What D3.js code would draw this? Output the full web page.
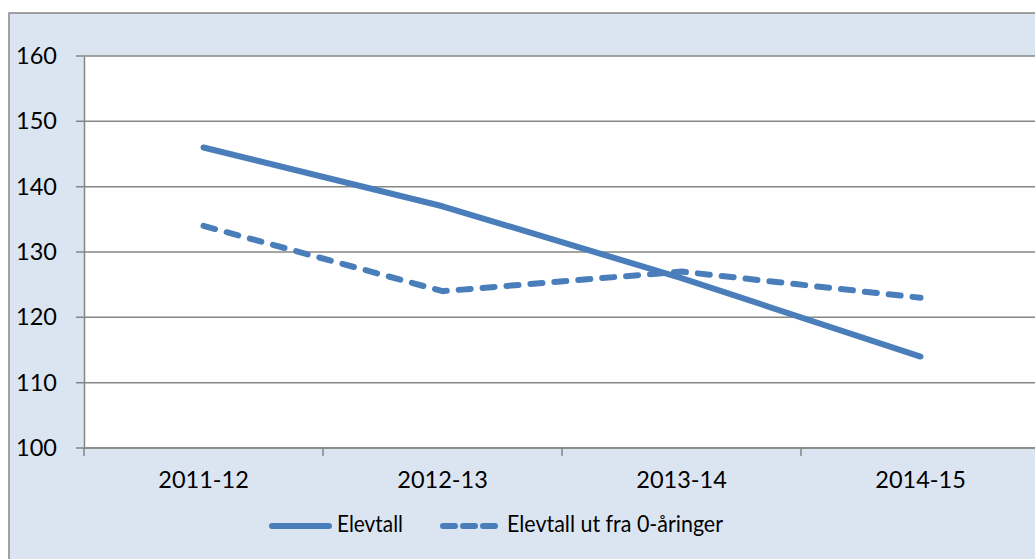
<!DOCTYPE html>
<html><head><meta charset="utf-8">
<script src="https://cdn.jsdelivr.net/npm/d3@7"></script>
<style>html,body{margin:0;padding:0;background:#fff;overflow:hidden}svg{display:block}</style>
</head><body>
<script>
const categories = ["2011-12","2012-13","2013-14","2014-15"];
const elevtall = [146,137,126,114];
const elevtall0 = [134,124,127,123];
const seriesNames = ["Elevtall","Elevtall ut fra 0-åringer"];
const yTicks = [100,110,120,130,140,150,160];

(function(){
const W=1035,H=559;
const font = "Lato, 'Open Sans', sans-serif";
const fs = 23.5;
const svg = d3.select("body").append("svg").attr("width",W).attr("height",H);
svg.append("rect").attr("x",9).attr("y",13).attr("width",1040).attr("height",570)
  .attr("fill","#dbe5f1").attr("stroke","#868686").attr("stroke-width",1.5);

const pLeft=84, pTop=56, pBottom=448, pRight=84+4*239;
const x = d3.scaleBand().domain(categories).range([pLeft,pRight]);
const y = d3.scaleLinear().domain([100,160]).range([pBottom,pTop]);

svg.append("rect").attr("x",pLeft).attr("y",pTop).attr("width",pRight-pLeft).attr("height",pBottom-pTop).attr("fill","#fff");

svg.append("g").selectAll("line").data(yTicks).join("line")
  .attr("x1",pLeft-8).attr("x2",pRight).attr("y1",d=>y(d)).attr("y2",d=>y(d))
  .attr("stroke","#868686").attr("stroke-width",1.5);

const yAxis = d3.axisLeft(y).tickValues(yTicks).tickSize(0).tickPadding(0);
const ya = svg.append("g").attr("transform",`translate(${pLeft},0)`).call(yAxis);
ya.select(".domain").attr("stroke","#868686").attr("stroke-width",1.5);
ya.selectAll("text").attr("x",-27).attr("font-family",font).attr("font-size",fs).attr("fill","#000");

const xAxis = d3.axisBottom(x).tickSize(0).tickPadding(0);
const xa = svg.append("g").attr("transform",`translate(0,${pBottom})`).call(xAxis);
xa.select(".domain").remove();
xa.selectAll("text").attr("y",34).attr("dy","0").attr("dominant-baseline","middle").attr("font-family",font).attr("font-size",fs).attr("fill","#000");
const bounds = categories.map(c=>x(c)).concat([pRight]);
svg.append("g").selectAll("line").data(bounds).join("line")
  .attr("x1",d=>d).attr("x2",d=>d).attr("y1",pBottom).attr("y2",pBottom+8)
  .attr("stroke","#868686").attr("stroke-width",1.5);
svg.append("line").attr("x1",pLeft).attr("x2",pRight).attr("y1",pBottom).attr("y2",pBottom)
  .attr("stroke","#868686").attr("stroke-width",1.5);

const color="#4a7ebb";
const line = d3.line().x((d,i)=>x(categories[i])+x.bandwidth()/2).y(d=>y(d));
svg.append("path").attr("d",line(elevtall)).attr("fill","none").attr("stroke",color)
  .attr("stroke-width",6).attr("stroke-linecap","round").attr("stroke-linejoin","round");
svg.append("path").attr("d",line(elevtall0)).attr("fill","none").attr("stroke",color)
  .attr("stroke-width",6).attr("stroke-linecap","round").attr("stroke-linejoin","round")
  .attr("stroke-dasharray","12,12");

const ly=526;
const lg=svg.append("g");
lg.append("line").attr("x1",272).attr("x2",329).attr("y1",ly).attr("y2",ly)
  .attr("stroke",color).attr("stroke-width",6).attr("stroke-linecap","round");
lg.append("text").attr("x",337).attr("y",ly).attr("dominant-baseline","middle")
  .attr("font-family",font).attr("font-size",24)
  .attr("textLength",66).attr("lengthAdjust","spacingAndGlyphs").text(seriesNames[0]);
lg.append("line").attr("x1",443).attr("x2",495).attr("y1",ly).attr("y2",ly)
  .attr("stroke",color).attr("stroke-width",6).attr("stroke-linecap","round").attr("stroke-dasharray","12,8");
lg.append("text").attr("x",507).attr("y",ly).attr("dominant-baseline","middle")
  .attr("font-family",font).attr("font-size",24)
  .attr("textLength",216).attr("lengthAdjust","spacingAndGlyphs").text(seriesNames[1]);
})();
</script>
</body></html>
